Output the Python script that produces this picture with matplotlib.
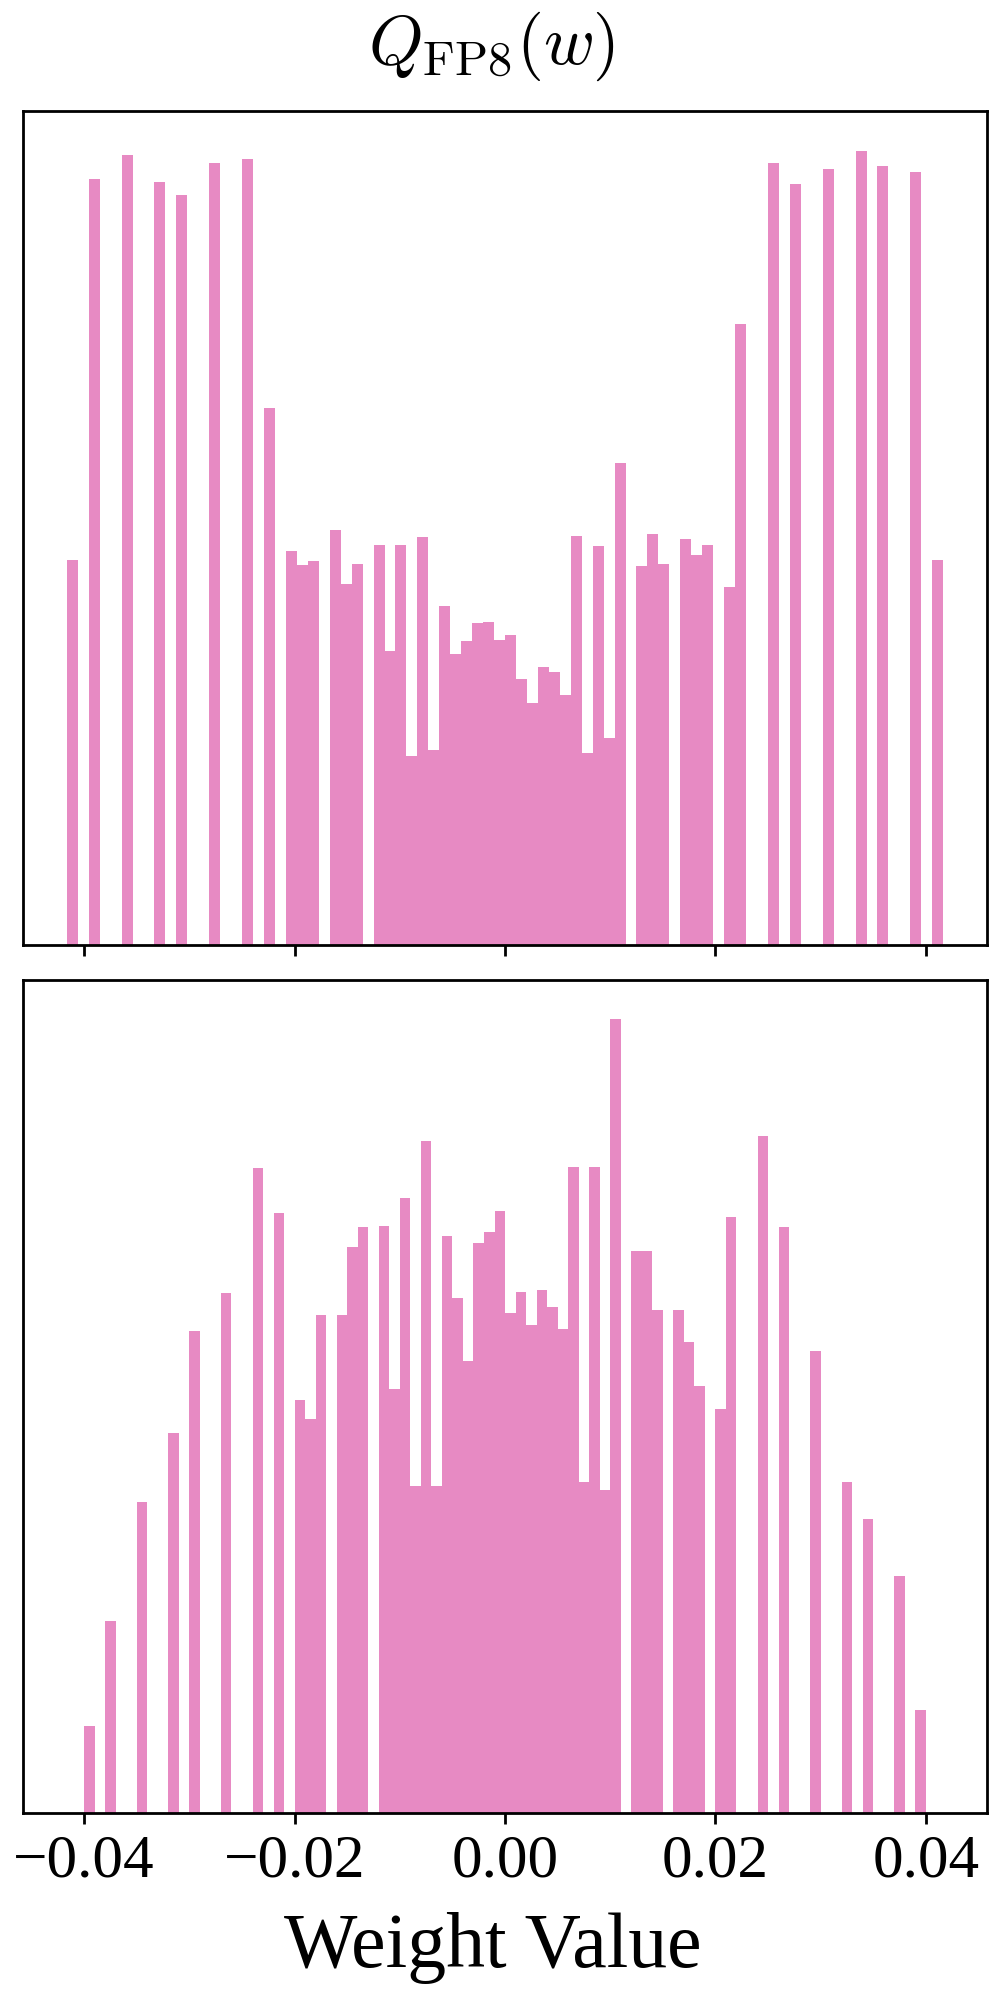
import numpy as np
import matplotlib
matplotlib.use('Agg')
import matplotlib.pyplot as plt

# 字体: 刻度和坐标轴标签用 Times 风格, 标题用 Computer Modern 数学字体
plt.rcParams['font.family'] = ['Liberation Serif', 'DejaVu Serif']
plt.rcParams['mathtext.fontset'] = 'cm'
plt.rcParams['axes.linewidth'] = 1.0

# 上图: 量化后的权重落在的取值 (直方图柱子中心) 及其计数
top_values = [-0.04113, -0.03905, -0.03592, -0.03280, -0.03072, -0.02759, -0.02447, -0.02239,
              -0.02030, -0.01926, -0.01822, -0.01614, -0.01510, -0.01406,
              -0.01197, -0.01093, -0.00989, -0.00885, -0.00781, -0.00677, -0.00573, -0.00468,
              -0.00364, -0.00260, -0.00156, -0.00052, 0.00052, 0.00156, 0.00260, 0.00364,
              0.00468, 0.00573, 0.00677, 0.00781, 0.00885, 0.00989, 0.01093,
              0.01301, 0.01406, 0.01510, 0.01718, 0.01822, 0.01926, 0.02134, 0.02239,
              0.02551, 0.02759, 0.03072, 0.03384, 0.03592, 0.03905, 0.04113]
top_counts = [702, 1397, 1440, 1391, 1367, 1425, 1432, 978,
              718, 692, 700, 756, 657, 695,
              728, 535, 728, 344, 744, 354, 618, 530,
              554, 586, 589, 556, 564, 484, 440, 506,
              497, 455, 745, 349, 727, 377, 879,
              691, 748, 694, 740, 710, 729, 652, 1132,
              1426, 1387, 1414, 1448, 1420, 1410, 702]
top_range = (-0.04165, 0.04165)

# 下图
bottom_values = [-0.0395, -0.0375, -0.0345, -0.0315, -0.0295, -0.0265, -0.0235, -0.0215,
                 -0.0195, -0.0185, -0.0175, -0.0155, -0.0145, -0.0135,
                 -0.0115, -0.0105, -0.0095, -0.0085, -0.0075, -0.0065, -0.0055, -0.0045,
                 -0.0035, -0.0025, -0.0015, -0.0005, 0.0005, 0.0015, 0.0025, 0.0035,
                 0.0045, 0.0055, 0.0065, 0.0075, 0.0085, 0.0095, 0.0105,
                 0.0125, 0.0135, 0.0145, 0.0165, 0.0175, 0.0185, 0.0205, 0.0215,
                 0.0245, 0.0265, 0.0295, 0.0325, 0.0345, 0.0375, 0.0395]
bottom_counts = [161, 355, 573, 701, 889, 959, 1189, 1107,
                 762, 726, 919, 919, 1043, 1080,
                 1083, 782, 1135, 603, 1239, 603, 1065, 950,
                 833, 1051, 1071, 1110, 922, 961, 900, 964,
                 933, 892, 1191, 611, 1191, 595, 1464,
                 1037, 1037, 928, 928, 869, 787, 745, 1099,
                 1249, 1080, 852, 610, 543, 437, 190]
bottom_range = (-0.04, 0.04)

n_bins = 80
x_ticks = [-0.04, -0.02, 0.0, 0.02, 0.04]
bar_color = '#e78ac3'

fig, axes = plt.subplots(2, 1, sharex=True, figsize=(4.985, 9.965), dpi=200)
fig.subplots_adjust(left=0.0231, right=0.990, top=0.9443, bottom=0.0903, hspace=0.042)

panels = [(top_values, top_counts, top_range), (bottom_values, bottom_counts, bottom_range)]
for ax, (vals, cnts, rng) in zip(axes, panels):
    ax.hist(vals, bins=n_bins, range=rng, weights=cnts, color=bar_color,
            edgecolor='none', linewidth=0)
    ax.set_yticks([])
    ax.tick_params(axis='x', length=4, width=1.0, labelsize=22)

axes[1].set_xticks(x_ticks)

# 标题和横轴标签
fig.text(0.4935, 0.9770, r'$Q_{\mathrm{FP8}}(w)$', ha='center', va='center', fontsize=25)
fig.text(0.4945, 0.01305, 'Weight Value', ha='center', va='baseline', fontsize=28)

fig.savefig('out.png', dpi=200)
